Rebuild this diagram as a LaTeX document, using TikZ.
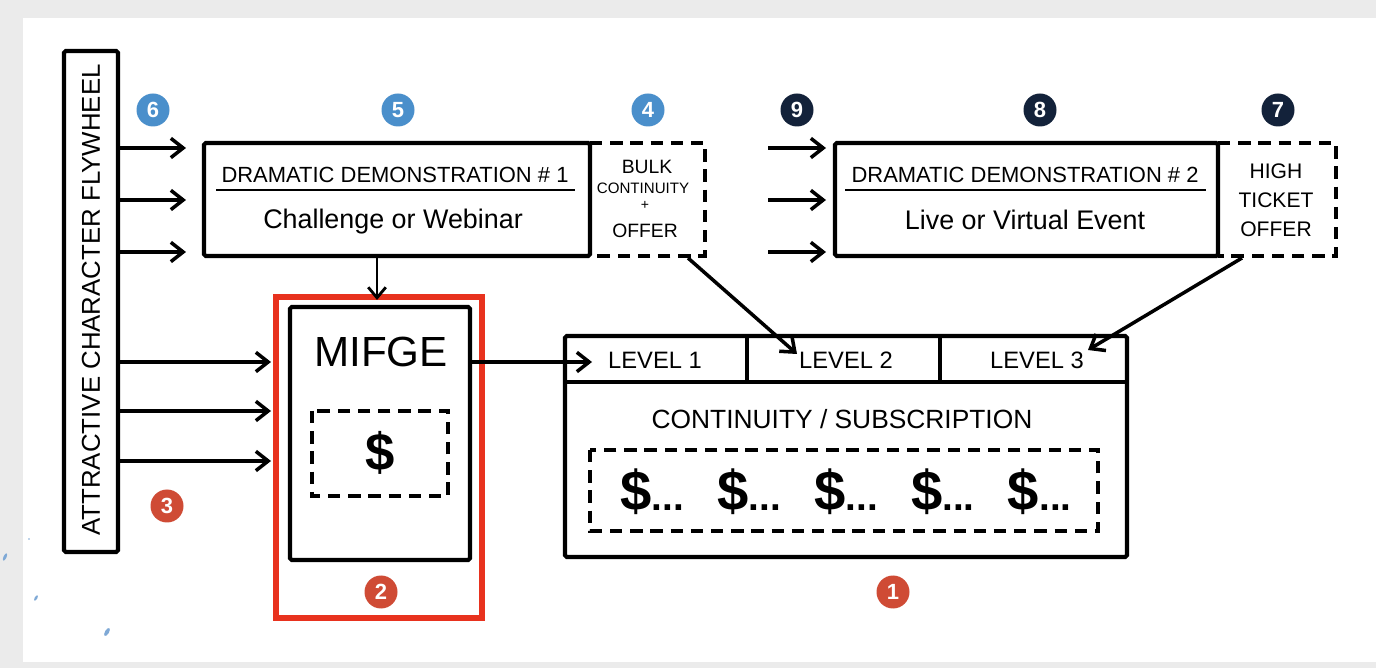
\documentclass[tikz,border=0pt]{standalone}
\usepackage{fontspec}
\setmainfont{Liberation Sans}
\usetikzlibrary{arrows.meta}
\definecolor{framegray}{HTML}{EBEBEB}
\definecolor{badgeblue}{HTML}{4A8FCB}
\definecolor{badgenavy}{HTML}{13223A}
\definecolor{badgered}{HTML}{CF4B35}
\definecolor{boxred}{HTML}{E8321E}
\definecolor{speck}{HTML}{7FA9D6}
\tikzset{
  box/.style={draw=black, line width=2.3pt, rounded corners=1pt},
  offerbox/.style={draw=black, line width=2.2pt, dash pattern=on 7pt off 4.5pt},
  feed/.style={line width=2pt, -{Straight Barb[length=7pt,width=11pt,line width=2pt]}},
  badge/.style={circle, minimum size=33*0.02cm, inner sep=0pt, text=white, font=\bfseries\fontsize{12.5}{12.5}\selectfont},
  bluebadge/.style={badge, fill=badgeblue},
  navybadge/.style={badge, fill=badgenavy},
  redbadge/.style={badge, fill=badgered},
  txt/.style={inner sep=0pt, align=center}
}
\newcommand{\bigdollar}{{\fontsize{32}{32}\selectfont\$}{\fontsize{22}{22}\selectfont...}}
\begin{document}
\begin{tikzpicture}[x={(0.02cm,0)}, y={(0,-0.02cm)}]
% frame
\fill[framegray] (0,0) rectangle (1376,668);
\fill[white] (23,18) rectangle (1376,662);
\useasboundingbox (0,0) rectangle (1376,668);

% flywheel column
\draw[box] (64,51) rectangle (118,552);
\node[txt, rotate=90, font=\fontsize{14.7}{14.7}\selectfont] (fly) at (91,300) {ATTRACTIVE CHARACTER FLYWHEEL};
\coordinate (flyR1) at (118,148);
\coordinate (flyR2) at (118,200);
\coordinate (flyR3) at (118,252);
\coordinate (flyR4) at (118,362);
\coordinate (flyR5) at (118,411);
\coordinate (flyR6) at (118,461);

% dramatic demonstration 1
\node[box, minimum width=386*0.02cm, minimum height=113*0.02cm, inner sep=0pt] (dd1) at (397,199.5) {};
\node[txt, font=\fontsize{12.5}{12.5}\selectfont] (dd1t) at (395,175) {DRAMATIC DEMONSTRATION \# 1};
\draw[line width=1.6pt] (216,190) -- (575,190);
\node[txt, font=\fontsize{15.3}{15.3}\selectfont] (dd1s) at (393,222) {Challenge or Webinar};

% bulk continuity offer
\draw[offerbox] (590,143) -- (705,143) -- (705,256) -- (590,256);
\node[txt, font=\fontsize{11}{11}\selectfont] (bulk1) at (647,167) {BULK};
\node[txt, font=\fontsize{8.6}{8.6}\selectfont] (bulk2) at (643,188) {CONTINUITY};
\node[txt, font=\fontsize{8}{8}\selectfont] (bulk3) at (645,205) {+};
\node[txt, font=\fontsize{11}{11}\selectfont] (bulk4) at (645,231) {OFFER};
\coordinate (bulkB) at (688,258);

% dramatic demonstration 2
\node[box, minimum width=383*0.02cm, minimum height=113*0.02cm, inner sep=0pt] (dd2) at (1026.5,199.5) {};
\node[txt, font=\fontsize{12.5}{12.5}\selectfont] (dd2t) at (1025,175) {DRAMATIC DEMONSTRATION \# 2};
\draw[line width=1.6pt] (845,190) -- (1206,190);
\node[txt, font=\fontsize{15.3}{15.3}\selectfont] (dd2s) at (1025,220) {Live or Virtual Event};

% high ticket offer
\draw[offerbox] (1218,143) -- (1336,143) -- (1336,256) -- (1218,256);
\node[txt, font=\fontsize{12}{16.5}\selectfont] (high) at (1276,200) {HIGH\\TICKET\\OFFER};
\coordinate (highB) at (1242,258);

% incoming arrows of second demonstration
\coordinate (in1) at (768,148);
\coordinate (in2) at (768,200);
\coordinate (in3) at (768,252);
\draw[feed] (in1) -- (826,148);
\draw[feed] (in2) -- (826,200);
\draw[feed] (in3) -- (826,252);

% flywheel feeds
\draw[feed] (flyR1) -- (186,148);
\draw[feed] (flyR2) -- (186,200);
\draw[feed] (flyR3) -- (186,252);
\draw[feed] (flyR4) -- (271,362);
\draw[feed] (flyR5) -- (271,411);
\draw[feed] (flyR6) -- (271,461);

% MIFGE
\draw[draw=boxred, line width=3pt] (276,297) rectangle (482,618);
\node[box, minimum width=180*0.02cm, minimum height=253*0.02cm, inner sep=0pt] (mifge) at (380,433.5) {};
\node[txt, font=\fontsize{24}{24}\selectfont] (mifget) at (381,352) {MIFGE};
\draw[offerbox] (312,411) rectangle (448,496);
\node[txt, font=\bfseries\fontsize{30}{30}\selectfont] (mdollar) at (380,453) {\$};
\draw[line width=1.6pt, -{Straight Barb[length=6pt,width=10pt,line width=1.6pt]}] (dd1.south -| 377,0) -- (377,300);

% continuity / subscription
\node[box, minimum width=562*0.02cm, minimum height=221*0.02cm, inner sep=0pt] (cont) at (846,446.5) {};
\draw[line width=2.2pt] (565,382) -- (1127,382);
\draw[line width=2.2pt] (747,336) -- (747,382);
\draw[line width=2.2pt] (940,336) -- (940,382);
\node[txt, font=\fontsize{13.5}{13.5}\selectfont] (lv1) at (655,360) {LEVEL 1};
\node[txt, font=\fontsize{13.5}{13.5}\selectfont] (lv2) at (846,360) {LEVEL 2};
\node[txt, font=\fontsize{13.5}{13.5}\selectfont] (lv3) at (1037,360) {LEVEL 3};
\node[txt, font=\fontsize{15}{15}\selectfont] (subs) at (842,419) {CONTINUITY / SUBSCRIPTION};
\draw[offerbox] (590,450) rectangle (1098,531);
\node[txt, font=\bfseries] (dollars) at (846,492) {\bigdollar\hspace{19pt}\bigdollar\hspace{19pt}\bigdollar\hspace{19pt}\bigdollar\hspace{19pt}\bigdollar};

% flows into the continuity levels
\draw[feed] (mifge.east |- 0,362) -- (592,362);
\draw[feed] (bulkB) -- (797,354);
\draw[feed] (highB) -- (1088,350);

% step badges
\node[bluebadge] (b6) at (153,110) {6};
\node[bluebadge] (b5) at (398,110) {5};
\node[bluebadge] (b4) at (648,110) {4};
\node[navybadge] (b9) at (797,110) {9};
\node[navybadge] (b8) at (1040,110) {8};
\node[navybadge] (b7) at (1278,110) {7};
\node[redbadge] (b3) at (167,506) {3};
\node[redbadge] (b2) at (381,592) {2};
\node[redbadge] (b1) at (893,592) {1};

% ink specks
\fill[speck, rotate around={-25:(5,557)}] (5,557) ellipse (1.5 and 4);
\fill[speck, rotate around={-30:(36,598)}] (36,598) ellipse (1.3 and 3);
\fill[speck, rotate around={-30:(107,632)}] (107,632) ellipse (2 and 4.5);
\fill[speck] (29,539) circle (0.8);
\end{tikzpicture}
\end{document}
